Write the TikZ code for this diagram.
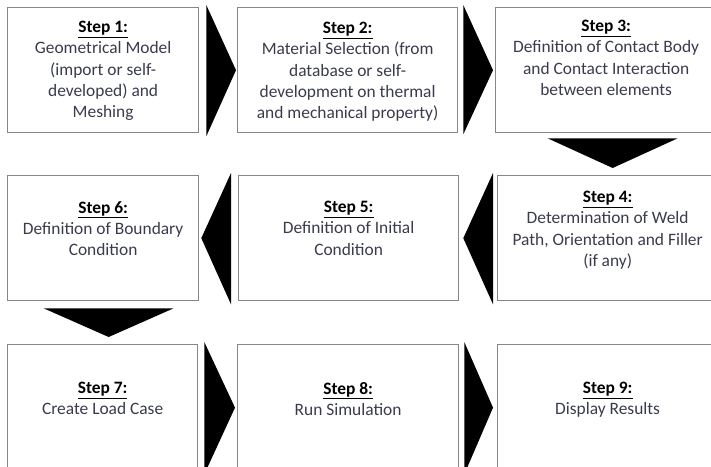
\documentclass[tikz,border=0pt]{standalone}
\usepackage{fontspec}
\setmainfont{Carlito}
\usetikzlibrary{calc}
\definecolor{txtc}{RGB}{58,60,78}
\definecolor{boxc}{RGB}{135,135,135}
\tikzset{
  box/.style={draw=boxc, line width=1.3pt, rectangle, anchor=north west, inner sep=0pt, fill=white},
  txt/.style={anchor=north, align=center, text=txtc, inner sep=0pt, font=\fontsize{17.4}{21.3}\selectfont},
  chev/.style={fill=black},
}
\newcommand{\stp}[1]{\textbf{\color{black}\underline{#1}}}
\begin{document}
\begin{tikzpicture}[x=1pt,y=-1pt]
\useasboundingbox (0,0) rectangle (711,466);
\clip (0,0) rectangle (711,466);
% boxes
\node[box, minimum width=191pt, minimum height=125pt] (b1) at (7,7) {};
\node[box, minimum width=220pt, minimum height=125pt] (b2) at (237,7) {};
\node[box, minimum width=221pt, minimum height=125pt] (b3) at (495,7) {};
\node[box, minimum width=220pt, minimum height=125pt] (b4) at (497,175) {};
\node[box, minimum width=220pt, minimum height=125pt] (b5) at (238,175) {};
\node[box, minimum width=191pt, minimum height=125pt] (b6) at (7,175) {};
\node[box, minimum width=190pt, minimum height=126pt] (b7) at (7,344) {};
\node[box, minimum width=221pt, minimum height=126pt] (b8) at (237,344) {};
\node[box, minimum width=220pt, minimum height=126pt] (b9) at (497,344) {};
% texts
\node[txt] (t1) at ($(b1.north)+(0,14)$) {\stp{Step 1:}\\Geometrical Model\\(import or self-\\developed) and\\Meshing};
\node[txt] (t2) at ($(b2.north)+(0,15)$) {\stp{Step 2:}\\Material Selection (from\\database or self-\\development on thermal\\and mechanical property)};
\node[txt] (t3) at ($(b3.north)+(0,13)$) {\stp{Step 3:}\\Definition of Contact Body\\and Contact Interaction\\between elements};
\node[txt] (t4) at ($(b4.north)+(0,16)$) {\stp{Step 4:}\\Determination of Weld\\Path, Orientation and Filler\\(if any)};
\node[txt] (t5) at ($(b5.north)+(0,26)$) {\stp{Step 5:}\\Definition of Initial\\Condition};
\node[txt] (t6) at ($(b6.north)+(0,26)$) {\stp{Step 6:}\\Definition of Boundary\\Condition};
\node[txt] (t7) at ($(b7.north)+(0,38)$) {\stp{Step 7:}\\Create Load Case};
\node[txt] (t8) at ($(b8.north)+(0,38)$) {\stp{Step 8:}\\Run Simulation};
\node[txt] (t9) at ($(b9.north)+(0,38)$) {\stp{Step 9:}\\Display Results};
% connectors (chevron triangles)
\fill[chev] ($(b1.north east)+(7,-2)$) -- ($(b2.west)+(-1,0)$) -- ($(b1.south east)+(7,3)$) -- cycle;
\fill[chev] ($(b2.north east)+(5,-2)$) -- ($(b3.west)+(-2,0)$) -- ($(b2.south east)+(5,1)$) -- cycle;
\fill[chev] ($(b3.south)+(-58.5,5)$) -- ($(b3.south)+(71.5,5)$) -- ($(b4.north)+(5,-7)$) -- cycle;
\fill[chev] ($(b4.north west)+(-4,-2)$) -- ($(b5.east)+(4,0)$) -- ($(b4.south west)+(-4,3)$) -- cycle;
\fill[chev] ($(b5.north west)+(-7,-2)$) -- ($(b6.east)+(2,0)$) -- ($(b5.south west)+(-7,3)$) -- cycle;
\fill[chev] ($(b6.south)+(-59.5,7)$) -- ($(b6.south)+(70.5,7)$) -- ($(b7.north)+(6,-7)$) -- cycle;
\fill[chev] ($(b7.north east)+(6,-2)$) -- ($(b8.west)+(-2,0)$) -- ($(b7.south east)+(6,3)$) -- cycle;
\fill[chev] ($(b8.north east)+(5,-2)$) -- ($(b9.west)+(-4,0)$) -- ($(b8.south east)+(5,3)$) -- cycle;
\end{tikzpicture}
\end{document}
